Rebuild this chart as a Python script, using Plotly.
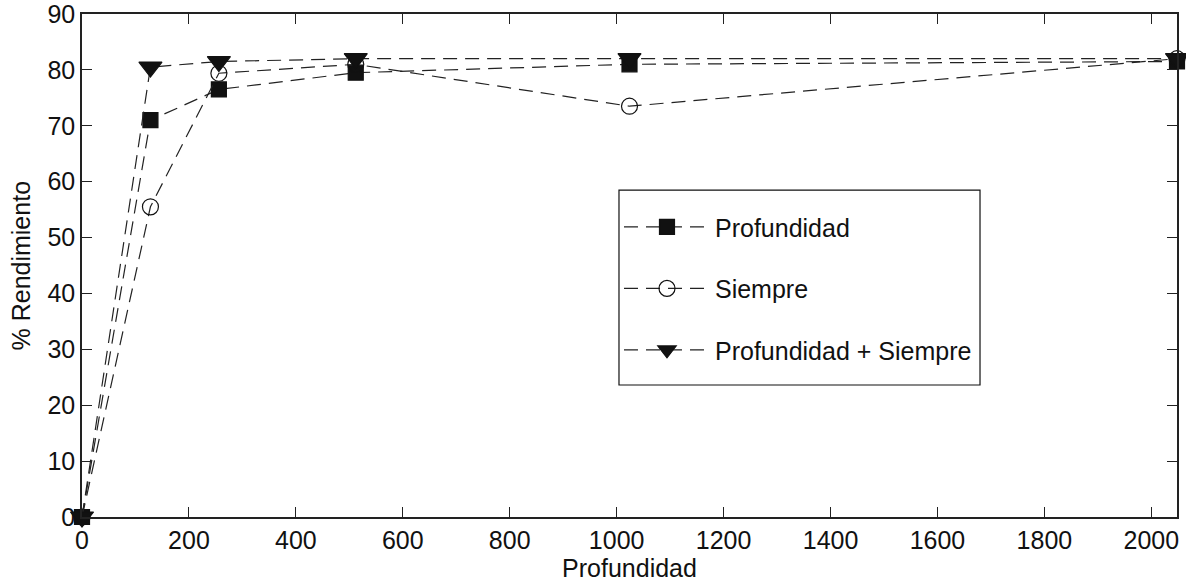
import plotly.graph_objects as go

x = [0, 128, 256, 512, 1024, 2048]
profundidad = [0, 71.0, 76.5, 79.5, 81.0, 81.5]
siempre = [0, 55.5, 79.4, 81.0, 73.5, 82.0]
prof_siempre = [0, 80.5, 81.5, 82.0, 82.0, 82.0]

names = ["Profundidad", "Siempre", "Profundidad + Siempre"]
series = [profundidad, siempre, prof_siempre]
symbols = ["square", "circle-open", "triangle-down"]
sizes = [15, 16, 20]

FONT = "Liberation Sans, Arial, Helvetica"

fig = go.Figure()
for i, (nm, ys, sym, sz) in enumerate(zip(names, series, symbols, sizes)):
    fig.add_trace(go.Scatter(
        x=x, y=ys, name=nm, mode="lines+markers",
        line=dict(color="#222222", width=1.2, dash="14px,8px"),
        marker=dict(symbol=sym, size=sz, color="#111111",
                    line=dict(color="#111111", width=1.2)),
        cliponaxis=False, legendgroup=str(i),
    ))

axis_common = dict(
    showgrid=False, zeroline=False, showline=True, linecolor="#222222",
    linewidth=1.5, mirror="ticks", ticks="inside", ticklen=10,
    tickcolor="#222222", tickwidth=1.2, ticklabeloverflow="allow",
    automargin=False,
    tickfont=dict(family=FONT, size=25, color="#111111"),
)

fig.update_layout(
    width=1186, height=584,
    margin=dict(l=82, r=9, t=14, b=67, autoexpand=False),
    plot_bgcolor="white", paper_bgcolor="white",
    font=dict(family=FONT, size=25, color="#111111"),
    xaxis=dict(range=[0, 2048], tickvals=[0, 200, 400, 600, 800, 1000, 1200, 1400, 1600, 1800, 2000],
               title=dict(text="Profundidad", standoff=0, font=dict(size=25)), **axis_common),
    yaxis=dict(range=[0, 90], tickvals=list(range(0, 91, 10)), **axis_common),
    legend=dict(x=0.4904, y=0.622, xanchor="left", yanchor="top",
                borderwidth=0, bgcolor="rgba(0,0,0,0)",
                font=dict(size=25), tracegroupgap=26, itemwidth=86,
                traceorder="grouped"),
    shapes=[dict(type="rect", xref="paper", yref="paper",
                 x0=0.4904, x1=0.8201, y0=0.2624, y1=0.650,
                 line=dict(color="#111111", width=1.2), fillcolor="white",
                 layer="below")],
    annotations=[dict(text="% Rendimiento", textangle=-90, xref="paper", yref="paper",
                      x=0, y=0.5, xshift=-62, xanchor="center", yanchor="middle",
                      showarrow=False,
                      font=dict(family=FONT, size=25, color="#111111"))],
)

fig.write_html("out.html")
